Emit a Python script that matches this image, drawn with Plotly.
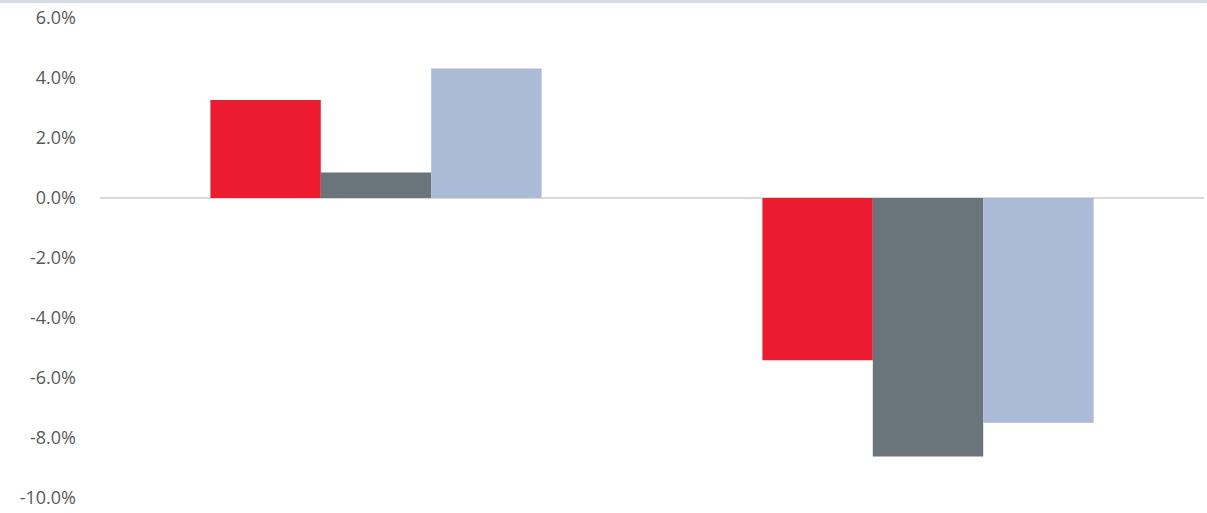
import plotly.graph_objects as go

categories = ["A", "B"]
series_names = ["Series 1", "Series 2", "Series 3"]
series_values = [
    [0.0327, -0.0541],
    [0.0085, -0.0862],
    [0.0432, -0.0749],
]
series_colors = ["#ED1B2F", "#6A747B", "#ABBAD7"]
tick_vals = [-0.10, -0.08, -0.06, -0.04, -0.02, 0.0, 0.02, 0.04, 0.06]
tick_text = ["{:.1f}%".format(v * 100) for v in tick_vals]

fig = go.Figure()
for name, vals, col in zip(series_names, series_values, series_colors):
    fig.add_trace(go.Bar(
        x=categories, y=vals, name=name,
        marker=dict(color=col, line=dict(width=0)),
    ))

fig.update_layout(
    width=1207, height=513,
    margin=dict(l=100, r=3, t=18, b=15),
    paper_bgcolor="white", plot_bgcolor="white",
    barmode="group", bargap=0.4, bargroupgap=0,
    showlegend=False,
    font=dict(family="Open Sans", size=18, color="#595959"),
    xaxis=dict(showticklabels=False, showgrid=False, zeroline=False,
               showline=False, ticks=""),
    yaxis=dict(range=[-0.10, 0.06], tickvals=tick_vals, ticktext=tick_text,
               showgrid=False, zeroline=True, zerolinecolor="#D9D9D9",
               zerolinewidth=2, showline=False, ticks="",
               ticklabelstandoff=23),
    shapes=[dict(type="line", xref="paper", yref="paper",
                 x0=-0.1, x1=1.01, y0=1.0344, y1=1.0344,
                 line=dict(color="#D6DCE4", width=3))],
)

fig.write_html("out.html",
               config={"displayModeBar": False},
               post_script="document.body.style.margin='0';document.body.style.overflow='hidden';")
